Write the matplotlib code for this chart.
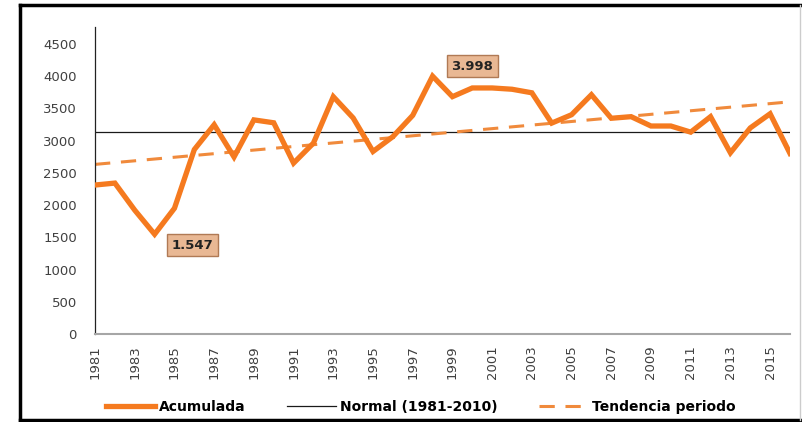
import matplotlib.pyplot as plt
from matplotlib.lines import Line2D

# Data
years = list(range(1981, 2017))
acumulada = [2310, 2340, 1920, 1547, 1950, 2860, 3245, 2745, 3320, 3275,
             2650, 2960, 3680, 3350, 2830, 3060, 3390, 3998, 3680, 3815,
             3815, 3795, 3740, 3270, 3400, 3710, 3345, 3370, 3225, 3225,
             3130, 3370, 2810, 3195, 3415, 2800]
normal_value = 3135
trend_years = [1981, 2016]
trend_values = [2630, 3600]
labels = {1984: "1.547", 1998: "3.998"}

# Setup
fig = plt.figure(figsize=(8.02, 4.22), dpi=100)
ax = fig.add_axes([0.1185, 0.2085, 0.8665, 0.7275])

orange = "#F57A1F"

# Actual plot
ax.plot(years, acumulada, color=orange, lw=3.8, solid_joinstyle="miter", label="Acumulada", zorder=3)
ax.axhline(normal_value, color="#1a1a1a", lw=0.9, label="Normal (1981-2010)", zorder=2)
ax.plot(trend_years, trend_values, color="#F08A3C", lw=2.2, dashes=(5, 3.5), label="Tendencia periodo", zorder=2)

# Value boxes
box = dict(boxstyle="square,pad=0.35", fc="#E9B894", ec="#B07A55", lw=1)
ax.annotate(labels[1984], (1984, 1547), xytext=(1985.9, 1380), fontsize=9.5, fontweight="bold",
            color="#222222", bbox=box, va="center", ha="center")
ax.annotate(labels[1998], (1998, 3998), xytext=(2000.0, 4150), fontsize=9.5, fontweight="bold",
            color="#222222", bbox=box, va="center", ha="center")

# Limits and ticks
ax.set_xlim(1981, 2016)
ax.set_ylim(0, 4760)
ax.set_yticks(range(0, 5000, 500))
ax.set_xticks(range(1981, 2017, 2))
ax.tick_params(axis="both", length=0, labelsize=9.5, colors="#404040")
ax.tick_params(axis="x", rotation=90, pad=8)
ax.tick_params(axis="y", pad=13)

for side in ["top", "right"]:
    ax.spines[side].set_visible(False)
ax.spines["left"].set_color("#222222")
ax.spines["left"].set_linewidth(0.9)
ax.spines["bottom"].set_color("#A6A6A6")
ax.spines["bottom"].set_linewidth(1.5)

# Legend below
fig.legend(loc="center", bbox_to_anchor=(0.525, 0.035), ncol=3, frameon=False,
           prop={"weight": "bold", "size": 10}, handlelength=3.5, columnspacing=3.0,
           handletextpad=0.3)

# Frame around the chart
fig.add_artist(Line2D([0.025, 0.025], [0.003, 0.987], color="black", lw=2.5, transform=fig.transFigure))
fig.add_artist(Line2D([0.025, 0.998], [0.987, 0.987], color="black", lw=2.5, transform=fig.transFigure))
fig.add_artist(Line2D([0.025, 0.998], [0.004, 0.004], color="black", lw=2.5, transform=fig.transFigure))
fig.add_artist(Line2D([0.998, 0.998], [0.004, 0.987], color="#cccccc", lw=1, transform=fig.transFigure))

plt.savefig("out.png")
